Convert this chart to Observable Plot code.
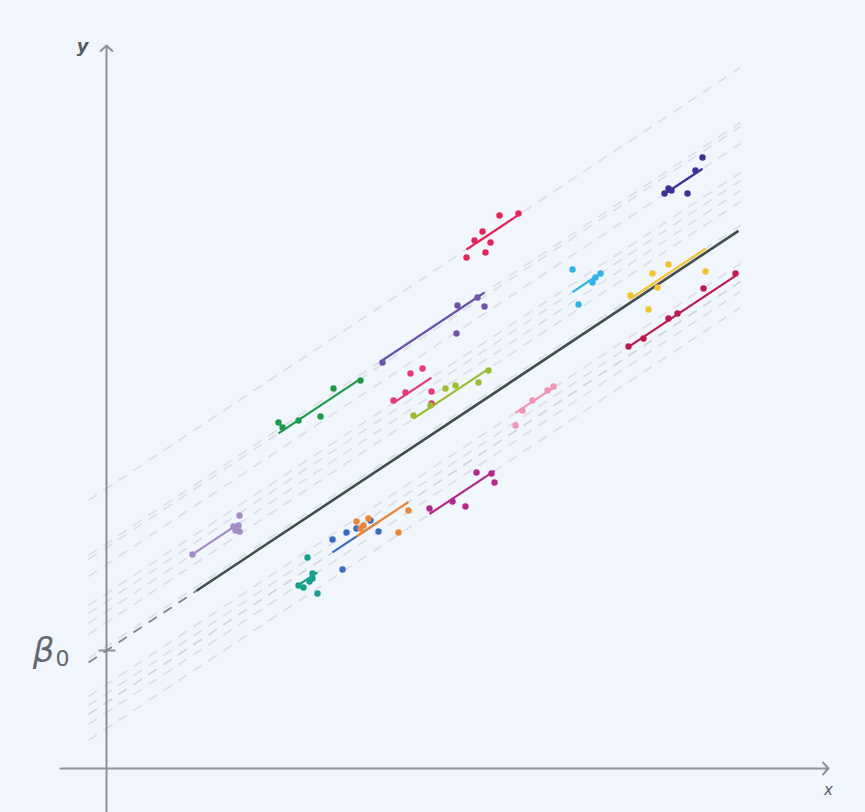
<!DOCTYPE html>
<html>
<head>
<meta charset="utf-8">
<script src="https://cdn.jsdelivr.net/npm/d3@7"></script>
<script src="https://cdn.jsdelivr.net/npm/@observablehq/plot@0.6"></script>
<style>
  html, body { margin: 0; padding: 0; background: #f1f5fc; }
  #chart { width: 865px; height: 812px; }
</style>
</head>
<body>
<div id="chart"></div>
<script>
// Population-level line (random-intercept model)
const beta0 = 1.18;
const beta1 = 0.664;

// Groups
const groupNames = ["g1","g2","g3","g4","g5","g6","g7","g8","g9","g10","g11","g12","g13","g14","g15"];
const groupColors = ["#a48bc9","#16a08c","#3a6cc2","#e8873a","#b2298a","#f294b5","#1f9a4c","#e23b75",
                     "#9ebd32","#6c55a8","#e4245c","#31b3e5","#f3c231","#bb1b51","#3e3196"];
const groupIntercepts = [1.57, 0.56, 0.66, 0.66, 0.40, 0.84, 2.21, 1.75, 1.46, 2.25, 2.80, 1.67, 1.22, 0.75, 2.04];

// Observed points per group
const groupX = [
  [0.86, 1.33, 1.27, 1.32, 1.29, 1.33],
  [2.01, 2.06, 1.92, 1.97, 2.11, 2.06, 2.03],
  [2.26, 2.40, 2.36, 2.64, 2.72, 2.50],
  [2.50, 2.57, 2.92, 3.02, 2.54, 2.62],
  [3.23, 3.46, 3.59, 3.70, 3.85, 3.88],
  [4.09, 4.16, 4.26, 4.41, 4.47],
  [1.72, 1.76, 1.92, 2.14, 2.27, 2.54],
  [2.87, 2.99, 3.04, 3.16, 3.25, 3.25],
  [3.07, 3.24, 3.39, 3.49, 3.72, 3.82],
  [2.76, 3.51, 3.50, 3.71, 3.78],
  [3.60, 3.79, 3.68, 3.76, 3.84, 3.93, 4.12],
  [4.66, 4.72, 4.86, 4.94, 4.89],
  [5.24, 5.46, 5.62, 5.42, 5.51, 5.99],
  [5.22, 5.37, 5.62, 5.71, 5.97, 6.29],
  [5.58, 5.62, 5.81, 5.89, 5.96, 5.65]
];
const groupY = [
  [2.14, 2.53, 2.42, 2.43, 2.38, 2.37],
  [2.11, 1.95, 1.83, 1.81, 1.75, 1.90, 1.87],
  [2.29, 2.36, 1.99, 2.48, 2.37, 2.40],
  [2.47, 2.43, 2.36, 2.58, 2.40, 2.50],
  [2.60, 2.67, 2.62, 2.96, 2.95, 2.86],
  [3.43, 3.58, 3.68, 3.78, 3.82],
  [3.46, 3.41, 3.48, 3.52, 3.80, 3.88],
  [3.68, 3.76, 3.95, 4.00, 3.77, 3.65],
  [3.53, 3.63, 3.80, 3.83, 3.86, 3.98],
  [4.06, 4.63, 4.35, 4.71, 4.62],
  [5.11, 5.16, 5.28, 5.37, 5.26, 5.53, 5.55],
  [4.99, 4.64, 4.86, 4.95, 4.91],
  [4.73, 4.95, 5.04, 4.59, 4.81, 4.97],
  [4.22, 4.30, 4.50, 4.55, 4.80, 4.95],
  [5.75, 5.80, 5.75, 5.98, 6.11, 5.78]
];

// Extents
const lineStartX = -0.18, lineEndX = 6.34, mainSolidStartX = 0.90, mainSolidEndX = 6.32;
const xAxisRange = [-0.46, 7.22], yAxisRange = [-0.44, 7.23];

// Build tables
const points = groupNames.flatMap((g, i) => groupX[i].map((x, j) => ({g, i, x, y: groupY[i][j]})));
const groups = groupNames.map((g, i) => {
  const [x1, x2] = d3.extent(groupX[i]);
  return {g, i, b: groupIntercepts[i], x1, x2, color: groupColors[i]};
});
const fy = (b, x) => b + beta1 * x;

const plot = Plot.plot({
  width: 865,
  height: 812,
  margin: 0,
  x: {domain: [-1.06, 7.59], axis: null},
  y: {domain: [-0.44, 7.68], axis: null},
  style: {background: "#f1f5fc", overflow: "visible"},
  marks: [
    // group lines extended (dashed, faint)
    Plot.link(groups, {
      x1: () => lineStartX, x2: () => lineEndX,
      y1: d => fy(d.b, lineStartX), y2: d => fy(d.b, lineEndX),
      stroke: "#c9ced8", strokeWidth: 1.6, strokeDasharray: "10,8", strokeOpacity: 0.6
    }),
    // axes
    Plot.arrow([0], {x1: xAxisRange[0], x2: xAxisRange[1], y1: 0, y2: 0,
      stroke: "#8d929a", strokeWidth: 2, headAngle: 95, headLength: 6}),
    Plot.arrow([0], {x1: 0, x2: 0, y1: yAxisRange[0], y2: yAxisRange[1],
      stroke: "#8d929a", strokeWidth: 2, headAngle: 95, headLength: 6}),
    // beta0 tick
    Plot.link([beta0], {x1: -0.08, x2: 0.09, y1: d => d, y2: d => d, stroke: "#8d929a", strokeWidth: 2}),
    // population line: dashed extension then solid
    Plot.link([beta0], {
      x1: () => lineStartX, x2: () => mainSolidStartX,
      y1: d => fy(d, lineStartX), y2: d => fy(d, mainSolidStartX),
      stroke: "#7f858c", strokeWidth: 1.8, strokeDasharray: "10,8"
    }),
    Plot.link([beta0], {
      x1: () => mainSolidStartX, x2: () => mainSolidEndX,
      y1: d => fy(d, mainSolidStartX), y2: d => fy(d, mainSolidEndX),
      stroke: "#434d4a", strokeWidth: 2.6
    }),
    // group fitted segments
    Plot.link(groups, {
      x1: "x1", x2: "x2",
      y1: d => fy(d.b, d.x1), y2: d => fy(d.b, d.x2),
      stroke: "color", strokeWidth: 2.2
    }),
    // points
    Plot.dot(points, {x: "x", y: "y", r: 3.2, fill: d => groupColors[d.i], stroke: "none"}),
    // labels
    Plot.text(["y"], {x: -0.24, y: 7.22, text: d => d, fontSize: 18, fontStyle: "italic", fontWeight: "bold",
      fontFamily: "DejaVu Sans", fill: "#555b63"}),
    Plot.text(["x"], {x: 7.22, y: -0.22, text: d => d, fontSize: 15, fontStyle: "italic",
      fontFamily: "DejaVu Sans", fill: "#555b63"}),
    Plot.text(["β"], {x: -0.63, y: beta0 - 0.01, text: d => d, fontSize: 34, fontStyle: "italic",
      fontFamily: "DejaVu Sans", fill: "#62676f"}),
    Plot.text(["0"], {x: -0.44, y: beta0 - 0.08, text: d => d, fontSize: 22,
      fontFamily: "DejaVu Sans", fill: "#62676f"})
  ]
});
document.getElementById("chart").appendChild(plot);
</script>
</body>
</html>
